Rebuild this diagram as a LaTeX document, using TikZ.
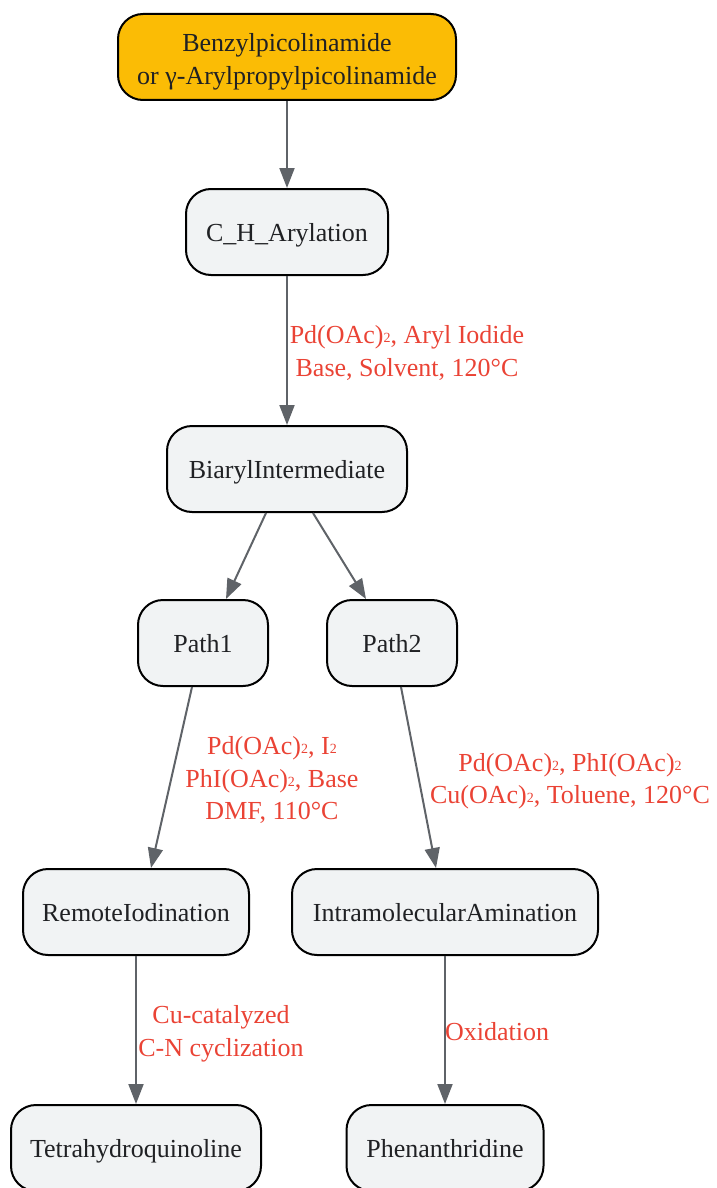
\documentclass[tikz,border=0pt]{standalone}
\usepackage{fontspec}
\setmainfont{Liberation Serif}
\usetikzlibrary{arrows.meta,calc}
\definecolor{gyellow}{HTML}{FBBC05}
\definecolor{gred}{HTML}{EA4335}
\definecolor{ggray}{HTML}{5F6368}
\definecolor{nodefill}{HTML}{F1F3F4}
\definecolor{txt}{HTML}{202124}
\newcommand{\subtwo}{\raisebox{1pt}{\fontsize{14}{14}\selectfont 2}}
\tikzset{
  box/.style={draw=black, line width=2pt, rounded corners=25pt, fill=nodefill,
    minimum height=86pt, text=txt, align=center, inner sep=0pt,
    text height=24pt, text depth=6pt,
    font=\fontsize{26}{33}\selectfont},
  startbox/.style={draw=black, line width=2pt, rounded corners=25pt, fill=gyellow,
    minimum height=86pt, text=txt, align=center, inner sep=0pt,
    font=\fontsize{26}{33}\selectfont},
  conn/.style={draw=ggray, line width=2pt, -{Triangle[length=20pt,width=15pt]}},
  lbl/.style={text=gred, align=center, inner sep=0pt, font=\fontsize{26}{32.5}\selectfont}
}
\begin{document}
\begin{tikzpicture}[x=1pt,y=-1pt]
\useasboundingbox (0,0) rectangle (717,1188);
\node[startbox, minimum width=338pt] (start) at (287,57) {\rule{0pt}{28pt}Benzylpicolinamide\\or γ-Arylpropylpicolinamide};
\node[box, minimum width=202pt] (ch) at (287,232) {C\_H\_Arylation};
\node[box, minimum width=240pt] (bi) at (287,469) {BiarylIntermediate};
\node[box, minimum width=130pt] (p1) at (203,643) {Path1};
\node[box, minimum width=130pt] (p2) at (392,643) {Path2};
\node[box, minimum width=226pt] (ri) at (136,912) {RemoteIodination};
\node[box, minimum width=306pt] (ia) at (445,912) {IntramolecularAmination};
\node[box, minimum width=250pt] (th) at (136,1148) {Tetrahydroquinoline};
\node[box, minimum width=197pt] (ph) at (445,1148) {Phenanthridine};

\draw[conn] (start.south) -- (ch.north);
\draw[conn] (ch.south) -- (bi.north);
\draw[conn] ([xshift=-21pt]bi.south) -- ([xshift=23pt]p1.north);
\draw[conn] ([xshift=26pt]bi.south) -- ([xshift=-26pt]p2.north);
\draw[conn] ([xshift=-11pt]p1.south) -- ([xshift=15pt]ri.north);
\draw[conn] ([xshift=9pt]p2.south) -- ([xshift=-9pt]ia.north);
\draw[conn] (ri.south) -- (th.north);
\draw[conn] (ia.south) -- (ph.north);

\node[lbl] (l1) at (407,353) {Pd(OAc)\subtwo, Aryl Iodide\\Base, Solvent, 120°C};
\node[lbl] (l2) at (272,780) {Pd(OAc)\subtwo, I\subtwo\\PhI(OAc)\subtwo, Base\\DMF, 110°C};
\node[lbl] (l3) at (570,781) {Pd(OAc)\subtwo, PhI(OAc)\subtwo\\Cu(OAc)\subtwo, Toluene, 120°C};
\node[lbl] (l4) at (221,1034) {Cu-catalyzed\\C-N cyclization};
\node[lbl] (l5) at (497,1032) {Oxidation};
\end{tikzpicture}
\end{document}
